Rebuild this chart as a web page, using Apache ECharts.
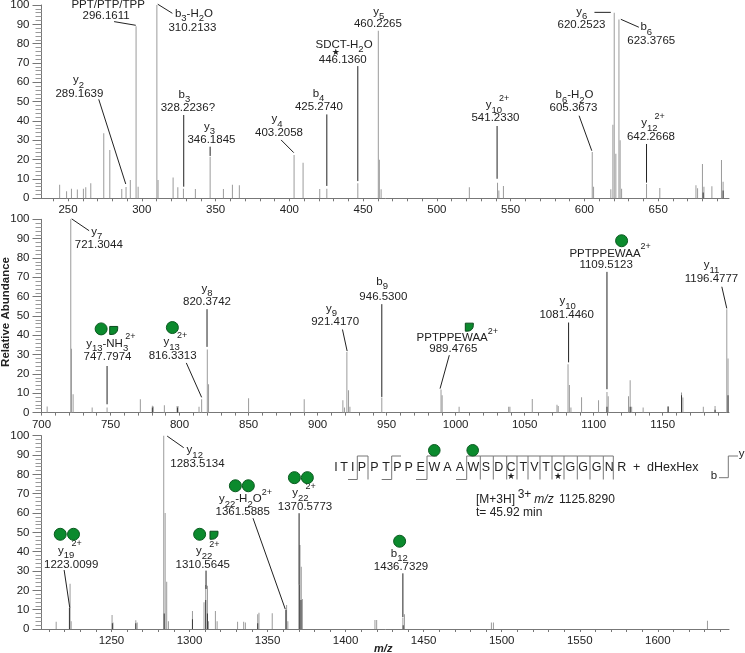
<!DOCTYPE html>
<html><head><meta charset="utf-8">
<style>html,body{margin:0;padding:0;background:#fff}#c{width:745px;height:653px}</style>
<script src="https://cdn.jsdelivr.net/npm/echarts@6/dist/echarts.min.js"></script>
</head><body><div id="c"></div>
<script>
// ---------- data ----------
const mz1  = [244.3,249,252.3,256.3,260.4,262,265.4,274.2,278.3,286.4,289.3,292.2,296.1,297.5,310.2,311,321.2,324.4,328.2,336.3,346.3,355.3,361.4,366.1,403.2,409.3,420.6,425.4,446.4,460.3,461,462.2,522,541.1,542,545.1,605.3,606.2,617.9,619.3,620.2,621.3,623.4,624.2,625.2,642.1,651.1,675.6,676.7,680,681,686.4,692.9,694];
const int1 = [7,3.6,5,4.5,5,5.7,7.8,33.6,25,4.8,5.9,9.5,89,6,100,9.5,10.7,5.7,5,4.8,21.5,4.8,7,6.7,22.4,18.4,4.8,5,7.8,86.7,20,4.7,5.7,8,4,6.4,24,6,4.7,38,96,23,92.5,30,5,7.4,5.3,6.7,5.2,17.8,6,6.2,19.8,8.6];
const darkMz1  = [694,680.5];
const darkInt1 = [4,3];
const mz2  = [704.1,721.2,721.7,722.9,736.7,747.5,771.6,780.3,781,789,798.2,798.9,814.1,816,820.1,821,850,890.3,918.3,919.5,921.2,922.4,923.4,946.5,989.4,990.2,1002.5,1038.4,1039.3,1055.5,1073.4,1074.3,1081.4,1082.4,1083.5,1091.2,1103.5,1109.6,1110.5,1125.2,1126.4,1127.5,1135.8,1153.9,1163.6,1164.6,1179.4,1187.9,1196.4,1197.3];
const int2 = [3.1,100,33,9.5,2.6,2.6,6.9,3.6,3.2,3.8,3.4,3.4,3,6.9,32.6,14.7,7.4,6.9,6.4,2.6,31.4,11.6,3,7.8,12,9,3,3,3,7,4,3.4,25,14.3,2.6,8,6.4,10.7,8.5,8.5,16.8,3,2.6,3.4,10.4,7.8,3,3.4,53.5,28];
const darkMz2  = [780.3,798.5,1109.6,1126.4,1153.9,1163.6,1187.9,1197.3];
const darkInt2 = [2.6,2.6,3,3,3,9,1.5,9];
const mz3  = [1214.6,1223.1,1223.5,1224.2,1250.4,1251,1265.6,1266.5,1283.5,1284.4,1285.4,1286.5,1301.9,1309.3,1310.4,1311.5,1312.2,1316.6,1317.7,1330.8,1334.7,1335.8,1343.7,1344.5,1353,1361.8,1362.2,1363,1370.3,1370.8,1371.6,1372.3,1418.8,1419.9,1436.7,1437.7,1493.4,1494.7,1631.8];
const int3 = [3.8,10.9,23.4,4,7.2,3.4,4.5,3.4,100,60,24.5,4,9.3,13.8,22.8,22.4,4,9.3,4,3.8,3.8,3.3,7.6,8.4,8.1,9.8,12.4,4,22.8,43.4,32.2,15.5,4.7,4.7,5.9,7.6,3.4,3.4,4.3];
const darkMz3  = [1223.1,1250.6,1265.6,1283.8,1301.9,1310.4,1311.5,1343.7,1361.8,1370.3,1371.4,1436.9];
const darkInt3 = [10.9,3,3,8,5,15,8,3,9.8,22.8,15,2];

const xTickLabels = [
  [250,300,350,400,450,500,550,600,650],
  [700,750,800,850,900,950,1000,1050,1100,1150],
  [1250,1300,1350,1400,1450,1500,1550,1600]
];
const xMinorTicks = [
  [240,250,260,270,280,290,300,310,320,330,340,350,360,370,380,390,400,410,420,430,440,450,460,470,480,490,500,510,520,530,540,550,560,570,580,590,600,610,620,630,640,650,660,670,680,690],
  [700,710,720,730,740,750,760,770,780,790,800,810,820,830,840,850,860,870,880,890,900,910,920,930,940,950,960,970,980,990,1000,1010,1020,1030,1040,1050,1060,1070,1080,1090,1100,1110,1120,1130,1140,1150,1160,1170,1180,1190],
  [1210,1220,1230,1240,1250,1260,1270,1280,1290,1300,1310,1320,1330,1340,1350,1360,1370,1380,1390,1400,1410,1420,1430,1440,1450,1460,1470,1480,1490,1500,1510,1520,1530,1540,1550,1560,1570,1580,1590,1600,1610,1620,1630,1640]
];

const ions1 = [
 ['PPT/PTP/TPP','296.1611'],['b_{3}-H_{2}O','310.2133'],['y_{2}','289.1639'],['b_{3}','328.2236?'],['y_{3}','346.1845'],
 ['y_{4}','403.2058'],['b_{4}','425.2740'],['SDCT-H_{2}O','446.1360'],['y_{5}','460.2265'],['y_{10}^{2+}','541.2330'],
 ['b_{6}-H_{2}O','605.3673'],['y_{6}','620.2523'],['b_{6}','623.3765'],['y_{12}^{2+}','642.2668']
];
const ions2 = [
 ['y_{7}','721.3044'],['y_{13}-NH_{3}^{2+}','747.7974'],['y_{13}^{2+}','816.3313'],['y_{8}','820.3742'],['y_{9}','921.4170'],
 ['b_{9}','946.5300'],['PPTPPEWAA^{2+}','989.4765'],['y_{10}','1081.4460'],['PPTPPEWAA^{2+}','1109.5123'],['y_{11}','1196.4777']
];
const ions3 = [
 ['y_{19}^{2+}','1223.0099'],['y_{12}','1283.5134'],['y_{22}^{2+}','1310.5645'],['y_{22}-H_{2}O^{2+}','1361.5885'],
 ['y_{22}^{2+}','1370.5773'],['b_{12}','1436.7329']
];
const peptide = ['I','T','I','P','P','T','P','P','E','W','A','A','W','S','D','C','T','V','T','C','G','G','G','N','R','+','dHexHex'];

// ---------- layout of the annotations (chart coordinates: m/z, abundance) ----------
const place1 = [
 {at:[275.8,94.5],dx:2,dy:-11,lead:[281.2,91.4,295.9,89.5]},
 {at:[334.3,88.3],dx:1.5,dy:-14,lead:[310.8,100.4,320.7,95.7]},
 {at:[257.7,54.1],dx:-1,dy:-13.7,lead:[270.8,51.2,289.1,7.4]},
 {at:[331.2,47],dx:-3.4,dy:-13,lead:[328.4,43.1,328.4,6]},
 {at:[347.2,30],dx:-2,dy:-13.5,lead:[346.3,26.7,346.3,21.9]},
 {at:[393,33.8],dx:-2,dy:-14,lead:[394.4,30.2,403,23.6]},
 {at:[420,47.4],dx:-0.3,dy:-13.3,lead:[425.4,43.4,425.4,6.4]},
 {at:[436.2,71.5],dx:1.3,dy:-15.7,lead:[446.4,68.4,446.4,8.9],star:[431.5,75.2]},
 {at:[460,90.5],dx:1,dy:-12},
 {at:[539.7,41.5],dx:2,dy:-13},
 {at:[592.6,46.6],dx:1,dy:-13.3,lead:[596.4,42.7,605,24.6]},
 {at:[598,89.5],dx:0.4,dy:-13.7,lead:[606.8,96.2,617.9,96.2]},
 {at:[645.3,81.4],dx:-5,dy:-13.7,lead:[624.7,92.6,636.9,88.5]},
 {at:[645.1,31.7],dx:2,dy:-13.7}
];
place1[9].lead  = [540.8,37.4,540.8,10.1];
place1[13].lead = [642.1,28.1,642.1,8.1];
const place2 = [
 {at:[741.5,86.7],dx:-2,dy:-13.3,lead:[721.9,100.2,734.5,94.1]},
 {at:[747.8,28.7],dx:3.3,dy:-13.7,lead:[747.5,24.1,747.5,4.3]},
 {at:[795,29.2],dx:2.7,dy:-14,lead:[804.9,25.7,816,7.9]},
 {at:[819.9,57.3],dx:0,dy:-13.3,lead:[819.9,53.5,819.9,34]},
 {at:[912.7,47],dx:-3.7,dy:-13.3,lead:[918,43,921.4,31.8]},
 {at:[947.6,59.9],dx:-1.2,dy:-15,lead:[946.5,56.1,946.5,8.1]},
 {at:[998.3,32.8],dx:4,dy:-11,lead:[995.4,29.7,988.7,12.4]},
 {at:[1080.4,50.8],dx:1,dy:-13.3,lead:[1081.8,46.6,1081.8,26]},
 {at:[1109,76.5],dx:4,dy:-11,lead:[1109.6,72.8,1109.6,12.1]},
 {at:[1185.3,69.4],dx:0,dy:-13.3,lead:[1192.8,65.1,1196.4,53.9]}
];
const place3 = [
 {at:[1224.2,33.3],dx:-1.3,dy:-14,lead:[1219.7,30.5,1223.3,11]},
 {at:[1305.1,85.7],dx:-2.7,dy:-13.3,lead:[1285.7,99.8,1296.3,93.8]},
 {at:[1308.5,33.1],dx:5,dy:-14,lead:[1310.6,30.2,1310.6,20.7]},
 {at:[1334.1,60.5],dx:2.7,dy:-13,lead:[1340.7,57.3,1361.4,10.2]},
 {at:[1374,63],dx:-1,dy:-14,lead:[1370.2,59.9,1370.2,22.8]},
 {at:[1435.5,32.4],dx:-1.7,dy:-13,lead:[1436.7,28.8,1436.7,6.2]}
];
const hexose = [
 [],
 [[743.2,43.3],[794.8,44],[1120.2,88.9]],
 [[1217.2,49],[1225.7,49],[1306.5,49],[1329.4,74.1],[1337.7,74.1],[1367.2,78.3],[1375.5,78.3],[1434.6,45.4]]
];
const fucose = [[],[[752.3,42.5],[1009.9,44.2]],[[1315.7,48.5]]];

const INK = '#222';
const measure = document.createElement('canvas').getContext('2d');
function parseName(s){
  const out=[]; const re=/_\{([^}]*)\}|\^\{([^}]*)\}|([^_^]+)/g; let m;
  while((m=re.exec(s))){
    if(m[1]!==undefined) out.push({t:m[1],k:'sub'});
    else if(m[2]!==undefined) out.push({t:m[2],k:'sup'});
    else out.push({t:m[3],k:'base'});
  }
  return out;
}
const SIZE={base:11.5,sub:9.5,sup:9};
const SHIFT={base:0,sub:5,sup:-7};
function nameChildren(s,cx,cy){
  const segs=parseName(s); let w=0; const laid=[];
  segs.forEach((g,i)=>{
    measure.font=SIZE[g.k]+'px "Liberation Sans"';
    if(g.k==='sup'&&i>0&&segs[i-1].k==='sub') w-=3;
    laid.push({g,x:w}); w+=measure.measureText(g.t).width;
  });
  return laid.map(l=>({type:'text',silent:true,style:{
    text:l.g.t,x:cx-w/2+l.x,y:cy+SHIFT[l.g.k],fill:INK,fontSize:SIZE[l.g.k],fontFamily:'Liberation Sans',
    textAlign:'left',verticalAlign:'middle',textVerticalAlign:'middle'}}));
}
function annotationSeries(panel,ions,places){
  return {
    type:'custom',xAxisIndex:panel,yAxisIndex:panel,coordinateSystem:'cartesian2d',z:5,silent:true,clip:false,
    encode:{x:0,y:1},
    data:places.map(p=>p.at),
    renderItem(params,api){
      const i=params.dataIndex,p=places[i],c=api.coord(p.at),kids=[];
      kids.push({type:'text',silent:true,style:{text:ions[i][1],x:c[0],y:c[1],fill:INK,fontSize:11.5,fontFamily:'Liberation Sans',
        textAlign:'center',verticalAlign:'middle',textVerticalAlign:'middle'}});
      kids.push(...nameChildren(ions[i][0],c[0]+p.dx,c[1]+p.dy));
      if(p.lead){
        const a=api.coord([p.lead[0],p.lead[1]]),b=api.coord([p.lead[2],p.lead[3]]);
        kids.push({type:'line',silent:true,shape:{x1:a[0],y1:a[1],x2:b[0],y2:b[1]},style:{stroke:'#222',lineWidth:1}});
      }
      if(p.star){
        const s=api.coord(p.star);
        kids.push({type:'text',silent:true,style:{text:'★',x:s[0],y:s[1],fill:INK,fontSize:9,fontFamily:'DejaVu Sans',
          textAlign:'center',verticalAlign:'middle',textVerticalAlign:'middle'}});
      }
      return {type:'group',children:kids};
    }
  };
}
const zip=(a,b)=>a.map((v,i)=>[v,b[i]]);
const tops=[5,219.3,435.7];
const ranges=[[232,698],[700,1198],[1205.2,1645.6]];
const peaks=[[mz1,int1,darkMz1,darkInt1],[mz2,int2,darkMz2,darkInt2],[mz3,int3,darkMz3,darkInt3]];

const grid=tops.map(t=>({left:41.5,width:687.5,top:t,height:193.3,containLabel:false,outerBoundsMode:'none'}));
const AXIS='#777';
const plain=v=>String(v);
const xAxis=ranges.map((r,i)=>({
  type:'value',gridIndex:i,min:r[0],max:r[1],scale:true,splitLine:{show:false},
  axisLine:{onZero:false,lineStyle:{color:AXIS,width:1}},
  axisTick:{show:true,length:3,customValues:xMinorTicks[i],lineStyle:{color:AXIS,width:1}},
  axisLabel:{show:true,margin:6,color:INK,fontSize:11.5,fontFamily:'Liberation Sans',customValues:xTickLabels[i],formatter:plain,hideOverlap:false,showMinLabel:true,showMaxLabel:true},
  ...(i===2?{name:'m/z',nameLocation:'middle',nameGap:14,nameMoveOverlap:false,nameTextStyle:{color:INK,fontSize:11,fontWeight:'bold',fontStyle:'italic',fontFamily:'Liberation Sans',padding:[0,4,0,0]}}:{})
}));
const yAxis=tops.map((t,i)=>({
  type:'value',gridIndex:i,min:0,max:100,interval:10,splitLine:{show:false},
  axisLine:{show:true,lineStyle:{color:AXIS,width:1}},
  axisTick:{show:true,length:9,lineStyle:{color:AXIS,width:1}},
  minorTick:{show:true,splitNumber:5,length:6,lineStyle:{color:'#999',width:1}},
  axisLabel:{margin:12,color:INK,fontSize:11.5,fontFamily:'Liberation Sans',formatter:plain},
  ...(i===1?{name:'Relative Abundance',nameLocation:'middle',nameGap:30,nameMoveOverlap:false,nameTextStyle:{color:INK,fontSize:11.5,fontWeight:'bold',fontFamily:'Liberation Sans',padding:[0,0,0,8]}}:{})
}));
const series=[];
peaks.forEach((p,i)=>{
  series.push({type:'bar',xAxisIndex:i,yAxisIndex:i,barWidth:1,barGap:'-100%',silent:true,itemStyle:{color:'#9b9b9b'},data:zip(p[0],p[1])});
  series.push({type:'bar',xAxisIndex:i,yAxisIndex:i,barWidth:1,barGap:'-100%',silent:true,z:3,itemStyle:{color:'#3a3a3a'},data:zip(p[2],p[3])});
  series.push({type:'scatter',xAxisIndex:i,yAxisIndex:i,silent:true,z:6,symbol:'circle',symbolSize:12,
    itemStyle:{color:'#0b8a2d',borderColor:'#0a5a20',borderWidth:1,opacity:1},data:hexose[i]});
  series.push({type:'scatter',xAxisIndex:i,yAxisIndex:i,silent:true,z:6,symbol:'path://M0 0H10V3A7 7 0 0 1 3 10H0Z',symbolSize:8,
    itemStyle:{color:'#0b8a2d',borderColor:'#0a4a1c',borderWidth:1,opacity:1},data:fucose[i]});
});
series.push(annotationSeries(0,ions1,place1),annotationSeries(1,ions2,place2),annotationSeries(2,ions3,place3));

// peptide sequence block above the third panel
const seqX=[336,344,352.7,362,374.3,386,397.3,408.7,420.7,434.3,447.3,460,473.3,486,498.7,511,523.3,534.3,546,558,570.3,583,596.7,609.3,621.7,636.7,672.7];
const T=(text,x,y,o={})=>({type:'text',silent:true,x,y,style:Object.assign({text,fill:INK,fontSize:12.5,fontFamily:'Liberation Sans',textAlign:'center',textVerticalAlign:'middle',verticalAlign:'middle'},o)});
const L=(pts)=>({type:'polyline',silent:true,shape:{points:pts},style:{stroke:'#777',lineWidth:1,fill:null}});
const SEQ_TOP=456, SEQ_BOT=479.5;
const graphic=[];
peptide.forEach((c,i)=>graphic.push(T(c,seqX[i],467.7)));
[[348,357.3,368],[381.7,391.7,401],[416,427,437],[456,466.7,480.3]].forEach(b=>{
  graphic.push(L([[b[0],SEQ_BOT],[b[1],SEQ_BOT],[b[1],SEQ_TOP],[b[2],SEQ_TOP]]));
});
graphic.push(L([[368,SEQ_TOP],[368,SEQ_BOT]]));
[[480.3,493.3],[493.3,506.7],[506.7,517],[517,528],[528,540],[540,552],[552,564],[564,577.3],[577.3,590],[590,603.3],[603.3,613.3]].forEach(v=>{
  graphic.push(L([[v[0],SEQ_BOT],[v[0],SEQ_TOP],[v[1],SEQ_TOP]]));
});
graphic.push(L([[613.3,SEQ_TOP],[613.3,SEQ_BOT]]));
graphic.push(L([[719,477.7],[728.3,477.7],[728.3,456],[738,456]]));
graphic.push(T('b',714,476,{fontSize:11.5}),T('y',741.5,454,{fontSize:11.5}));
graphic.push(T('★',511,477,{fontSize:9,fontFamily:'DejaVu Sans'}),T('★',558,477,{fontSize:9,fontFamily:'DejaVu Sans'}));
[[434.3,450.3],[472.7,450.3]].forEach(c=>graphic.push({type:'circle',silent:true,shape:{cx:c[0],cy:c[1],r:5.8},style:{fill:'#0b8a2d',stroke:'#0a5a20',lineWidth:1}}));
const left={textAlign:'left'};
graphic.push(T('[M+3H]',476,499.5,{...left,fontSize:12}),T('3+',517.7,494.3,{...left,fontSize:12}),
  T('m/z',534.3,499.5,{...left,fontSize:12,fontStyle:'italic'}),T('1125.8290',559,499.5,{...left,fontSize:12}),
  T('t= 45.92 min',476,512.3,{...left,fontSize:12}));

echarts.init(document.getElementById('c'),null,{renderer:'canvas'}).setOption({
  animation:false,backgroundColor:'#fff',grid,xAxis,yAxis,series,graphic,tooltip:{show:false},legend:{show:false}
});
</script></body></html>
